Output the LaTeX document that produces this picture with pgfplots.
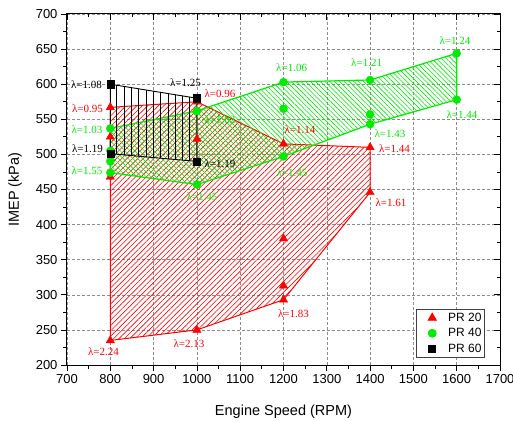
\documentclass[border=0pt]{standalone}
\usepackage{fontspec}
\setmainfont{Liberation Sans}
\newfontfamily\lamfont{Liberation Serif}
\usepackage{pgfplots}
\pgfplotsset{compat=1.18}
\usetikzlibrary{patterns.meta}
\definecolor{pred}{RGB}{255,0,0}
\definecolor{pgreen}{RGB}{0,235,0}
\newcommand{\lam}[3]{\node[text=#1,font=\lamfont\fontsize{11}{12}\selectfont,inner sep=0pt] at (axis cs:#2) {λ=#3};}
\begin{document}
\begin{tikzpicture}
\begin{axis}[
  at={(0,0)}, anchor=south west,
  scale only axis, width=433pt, height=351pt,
  xmin=700, xmax=1700, ymin=200, ymax=700,
  xtick={700,800,...,1700}, ytick={200,250,...,700},
  minor x tick num=1, minor y tick num=1,
  tick pos=left, tick align=outside,
  major tick length=6pt, minor tick length=3.5pt,
  grid=major, grid style={dash pattern=on 3pt off 2pt, gray!90, line width=0.5pt},
  ticklabel style={font=\fontsize{13}{15}\selectfont},
  /pgf/number format/assume math mode=true,
  /pgf/number format/1000 sep={},
  xlabel={Engine Speed (RPM)}, ylabel={IMEP (kPa)},
  label style={font=\fontsize{14.5}{17}\selectfont},
  xlabel style={at={(axis description cs:0.5,-0.1425)}, anchor=base},
  ylabel style={at={(axis description cs:-0.12,0.5)}, anchor=center},
  axis line style={line width=1pt},
  tick style={line width=0.8pt, black},
  legend cell align=left,
  legend image code/.code={\path[draw=none] (0pt,0pt) (24pt,0pt); \draw[#1,draw=none] plot coordinates {(14pt,0pt)};},
  legend style={at={(axis description cs:0.9653,0.0199)}, anchor=south east,
    font=\fontsize{12}{13}\selectfont, draw=black!75, line width=0.8pt,
    inner xsep=2pt, inner ysep=2pt, row sep=1.5pt,
    nodes={inner xsep=1pt},
    /tikz/every odd column/.append style={column sep=5pt}},
]
% PR 20 region
\addplot[pred, line width=1pt, pattern={Lines[angle=45,distance=3.8pt,line width=0.6pt]}, pattern color=pred, forget plot]
  coordinates {(800,235)(1000,250)(1200,293)(1400,446)(1400,510)(1200,515)(1000,575)(800,567)} -- cycle;
% PR 40 region
\addplot[pgreen, line width=1.2pt, pattern={Lines[angle=-45,distance=3.4pt,line width=0.6pt]}, pattern color=pgreen, forget plot]
  coordinates {(800,537)(1000,562)(1200,603)(1400,606)(1600,644)(1600,578)(1400,543)(1200,497)(1000,457)(800,474)} -- cycle;
% PR 60 region
\addplot[black, line width=0.9pt, pattern={Lines[angle=90,distance=7.3pt,line width=0.8pt]}, pattern color=black, forget plot]
  coordinates {(800,600)(1000,580)(1000,490)(800,501)} -- cycle;

\addplot[only marks, mark=triangle*, mark size=4.8pt, color=pred, mark options={draw=pred}]
  coordinates {(800,235)(800,468)(800,525)(800,567)(1000,250)(1000,522)(1000,575)(1200,293)(1200,313)(1200,380)(1200,515)(1400,446)(1400,510)};
\addlegendentry{PR 20}
\addplot[only marks, mark=*, mark size=4pt, color=pgreen, mark options={draw=pgreen}]
  coordinates {(800,474)(800,490)(800,505)(800,537)(1000,457)(1000,562)(1200,497)(1200,565)(1200,603)(1400,543)(1400,557)(1400,606)(1600,578)(1600,644)};
\addlegendentry{PR 40}
\addplot[only marks, mark=square*, mark size=3.6pt, color=black, mark options={draw=black}]
  coordinates {(800,501)(800,600)(1000,490)(1000,580)};
\addlegendentry{PR 60}

% labels
\lam{pred}{747.3,564.7}{0.95}
\lam{pred}{1053.3,586.0}{0.96}
\lam{pred}{1238,534.8}{1.14}
\lam{pred}{1456.2,507.7}{1.44}
\lam{pred}{1448.1,430.8}{1.61}
\lam{pred}{1223,272.6}{1.83}
\lam{pred}{981.7,229.9}{2.13}
\lam{pred}{784.3,218.5}{2.24}
\lam{pgreen}{746.2,534.8}{1.03}
\lam{pgreen}{746.2,476.4}{1.55}
\lam{pgreen}{1053.3,549}{1.02}
\lam{pgreen}{1011.7,439.3}{1.45}
\lam{pgreen}{1218.8,623.1}{1.06}
\lam{pgreen}{1219.5,473.5}{1.45}
\lam{pgreen}{1392,630.2}{1.21}
\lam{pgreen}{1445.8,529.1}{1.43}
\lam{pgreen}{1595.9,661.5}{1.24}
\lam{pgreen}{1612,556.1}{1.44}
\lam{black}{745,598.9}{1.08}
\lam{black}{973.6,601.7}{1.25}
\lam{black}{747.3,507.7}{1.19}
\lam{black}{1053.3,486.3}{1.19}
\end{axis}
\begin{axis}[
  at={(0,0)}, anchor=south west,
  scale only axis, width=433pt, height=351pt,
  xmin=700, xmax=1700, ymin=200, ymax=700,
  xtick={700,800,...,1700}, ytick={200,250,...,700},
  minor x tick num=1, minor y tick num=1,
  tick pos=right, tick align=inside,
  xticklabels={}, yticklabels={},
  major tick length=6pt, minor tick length=3.5pt,
  axis line style={line width=1pt},
  tick style={line width=0.8pt, black},
]
\end{axis}
\pgfresetboundingbox
\path[use as bounding box] (-67pt,-55pt) rectangle (446pt,365pt);
\end{tikzpicture}
\end{document}
